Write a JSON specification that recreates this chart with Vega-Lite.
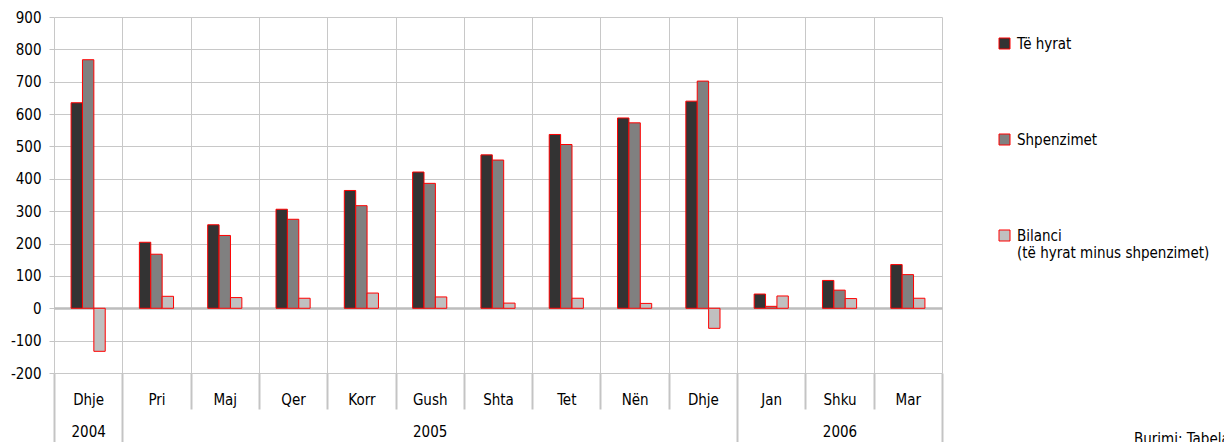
{
  "$schema": "https://vega.github.io/schema/vega-lite/v6.json",
  "width": 888,
  "height": 356,
  "autosize": {"type": "none"},
  "padding": {"left": 54, "top": 17, "right": 282, "bottom": 69},
  "background": "white",
  "config": {"view": {"stroke": null}, "font": "DejaVu Sans Condensed"},
  "title": {"text": "Burimi: Tabela", "orient": "bottom", "anchor": "start", "frame": "group", "dx": 1080, "dy": -16, "baseline": "top", "fontSize": 15, "font": "DejaVu Sans Condensed", "fontWeight": "normal", "color": "#000000"},
  "data": {"values": [
    {"key": "2004-Dhje", "series": "Të hyrat", "value": 635},
    {"key": "2004-Dhje", "series": "Shpenzimet", "value": 768},
    {"key": "2004-Dhje", "series": "Bilanci", "value": -133},
    {"key": "2005-Pri", "series": "Të hyrat", "value": 204},
    {"key": "2005-Pri", "series": "Shpenzimet", "value": 167},
    {"key": "2005-Pri", "series": "Bilanci", "value": 37},
    {"key": "2005-Maj", "series": "Të hyrat", "value": 258},
    {"key": "2005-Maj", "series": "Shpenzimet", "value": 225},
    {"key": "2005-Maj", "series": "Bilanci", "value": 33},
    {"key": "2005-Qer", "series": "Të hyrat", "value": 306},
    {"key": "2005-Qer", "series": "Shpenzimet", "value": 275},
    {"key": "2005-Qer", "series": "Bilanci", "value": 31},
    {"key": "2005-Korr", "series": "Të hyrat", "value": 364},
    {"key": "2005-Korr", "series": "Shpenzimet", "value": 317},
    {"key": "2005-Korr", "series": "Bilanci", "value": 47},
    {"key": "2005-Gush", "series": "Të hyrat", "value": 421},
    {"key": "2005-Gush", "series": "Shpenzimet", "value": 386},
    {"key": "2005-Gush", "series": "Bilanci", "value": 35},
    {"key": "2005-Shta", "series": "Të hyrat", "value": 474},
    {"key": "2005-Shta", "series": "Shpenzimet", "value": 458},
    {"key": "2005-Shta", "series": "Bilanci", "value": 16},
    {"key": "2005-Tet", "series": "Të hyrat", "value": 537},
    {"key": "2005-Tet", "series": "Shpenzimet", "value": 506},
    {"key": "2005-Tet", "series": "Bilanci", "value": 31},
    {"key": "2005-Nën", "series": "Të hyrat", "value": 588},
    {"key": "2005-Nën", "series": "Shpenzimet", "value": 573},
    {"key": "2005-Nën", "series": "Bilanci", "value": 15},
    {"key": "2005-Dhje", "series": "Të hyrat", "value": 640},
    {"key": "2005-Dhje", "series": "Shpenzimet", "value": 702},
    {"key": "2005-Dhje", "series": "Bilanci", "value": -62},
    {"key": "2006-Jan", "series": "Të hyrat", "value": 44},
    {"key": "2006-Jan", "series": "Shpenzimet", "value": 6},
    {"key": "2006-Jan", "series": "Bilanci", "value": 38},
    {"key": "2006-Shku", "series": "Të hyrat", "value": 86},
    {"key": "2006-Shku", "series": "Shpenzimet", "value": 56},
    {"key": "2006-Shku", "series": "Bilanci", "value": 30},
    {"key": "2006-Mar", "series": "Të hyrat", "value": 135},
    {"key": "2006-Mar", "series": "Shpenzimet", "value": 104},
    {"key": "2006-Mar", "series": "Bilanci", "value": 31}
  ]},
  "mark": {"type": "bar", "stroke": "#ff0000", "strokeWidth": 1},
  "encoding": {
    "x": {
      "field": "key", "type": "nominal", "sort": null,
      "scale": {"paddingInner": 0, "paddingOuter": 0},
      "axis": {
        "title": null,
        "tickBand": "extent",
        "domain": false,
        "grid": true, "gridColor": "#c8c8c8", "gridWidth": 1,
        "ticks": true, "tickColor": "#c4c4c4", "tickWidth": 2,
        "tickSize": {"condition": {"test": "!datum.value || indexof(['2004-Dhje','2005-Dhje','2006-Mar'], datum.value) >= 0", "value": 70}, "value": 36},
        "labelPadding": {"condition": {"test": "!datum.value || indexof(['2004-Dhje','2005-Dhje','2006-Mar'], datum.value) >= 0", "value": -51}, "value": -17},
        "labelExpr": "datum.value ? (indexof(['2004-Dhje','2005-Gush','2006-Shku'], datum.value) >= 0 ? [split(datum.value,'-')[1], split(datum.value,'-')[0]] : split(datum.value,'-')[1]) : ''",
        "labelAngle": 0,
        "labelFont": "DejaVu Sans Condensed", "labelFontSize": 15, "labelColor": "#000000",
        "labelLineHeight": 32
      }
    },
    "xOffset": {
      "field": "series", "type": "nominal",
      "scale": {"domain": ["_l", "Të hyrat", "Shpenzimet", "Bilanci", "_r"], "paddingInner": 0, "paddingOuter": 0.5}
    },
    "y": {
      "field": "value", "type": "quantitative",
      "scale": {"domain": [-200, 900], "nice": false, "zero": false},
      "axis": {
        "title": null,
        "values": [-200, -100, 0, 100, 200, 300, 400, 500, 600, 700, 800, 900],
        "labelOverlap": false,
        "labelFlush": false,
        "labelExpr": "'' + datum.value",
        "domain": false,
        "grid": true,
        "gridColor": {"condition": {"test": "datum.value === 0", "value": "#bdbdbd"}, "value": "#c8c8c8"},
        "gridWidth": {"condition": {"test": "datum.value === 0", "value": 2.5}, "value": 1},
        "tickColor": "#c4c4c4", "tickSize": 5,
        "labelPadding": 8,
        "labelFont": "DejaVu Sans Condensed", "labelFontSize": 15, "labelColor": "#000000"
      }
    },
    "color": {
      "field": "series", "type": "nominal",
      "scale": {"domain": ["Të hyrat", "Shpenzimet", "Bilanci"], "range": ["#333333", "#808080", "#c0c0c0"]},
      "legend": {
        "orient": "none", "legendX": 943, "legendY": 19,
        "title": null, "padding": 0,
        "symbolType": "square", "symbolSize": 121,
        "symbolStrokeColor": "#ff0000", "symbolStrokeWidth": 1, "symbolOpacity": 1,
        "labelFont": "DejaVu Sans Condensed", "labelFontSize": 15, "labelColor": "#000000",
        "labelOffset": 5, "labelLimit": 400, "rowPadding": 80,
        "labelExpr": "datum.label == 'Bilanci' ? ['Bilanci', '(të hyrat minus shpenzimet)'] : datum.label"
      }
    }
  }
}
